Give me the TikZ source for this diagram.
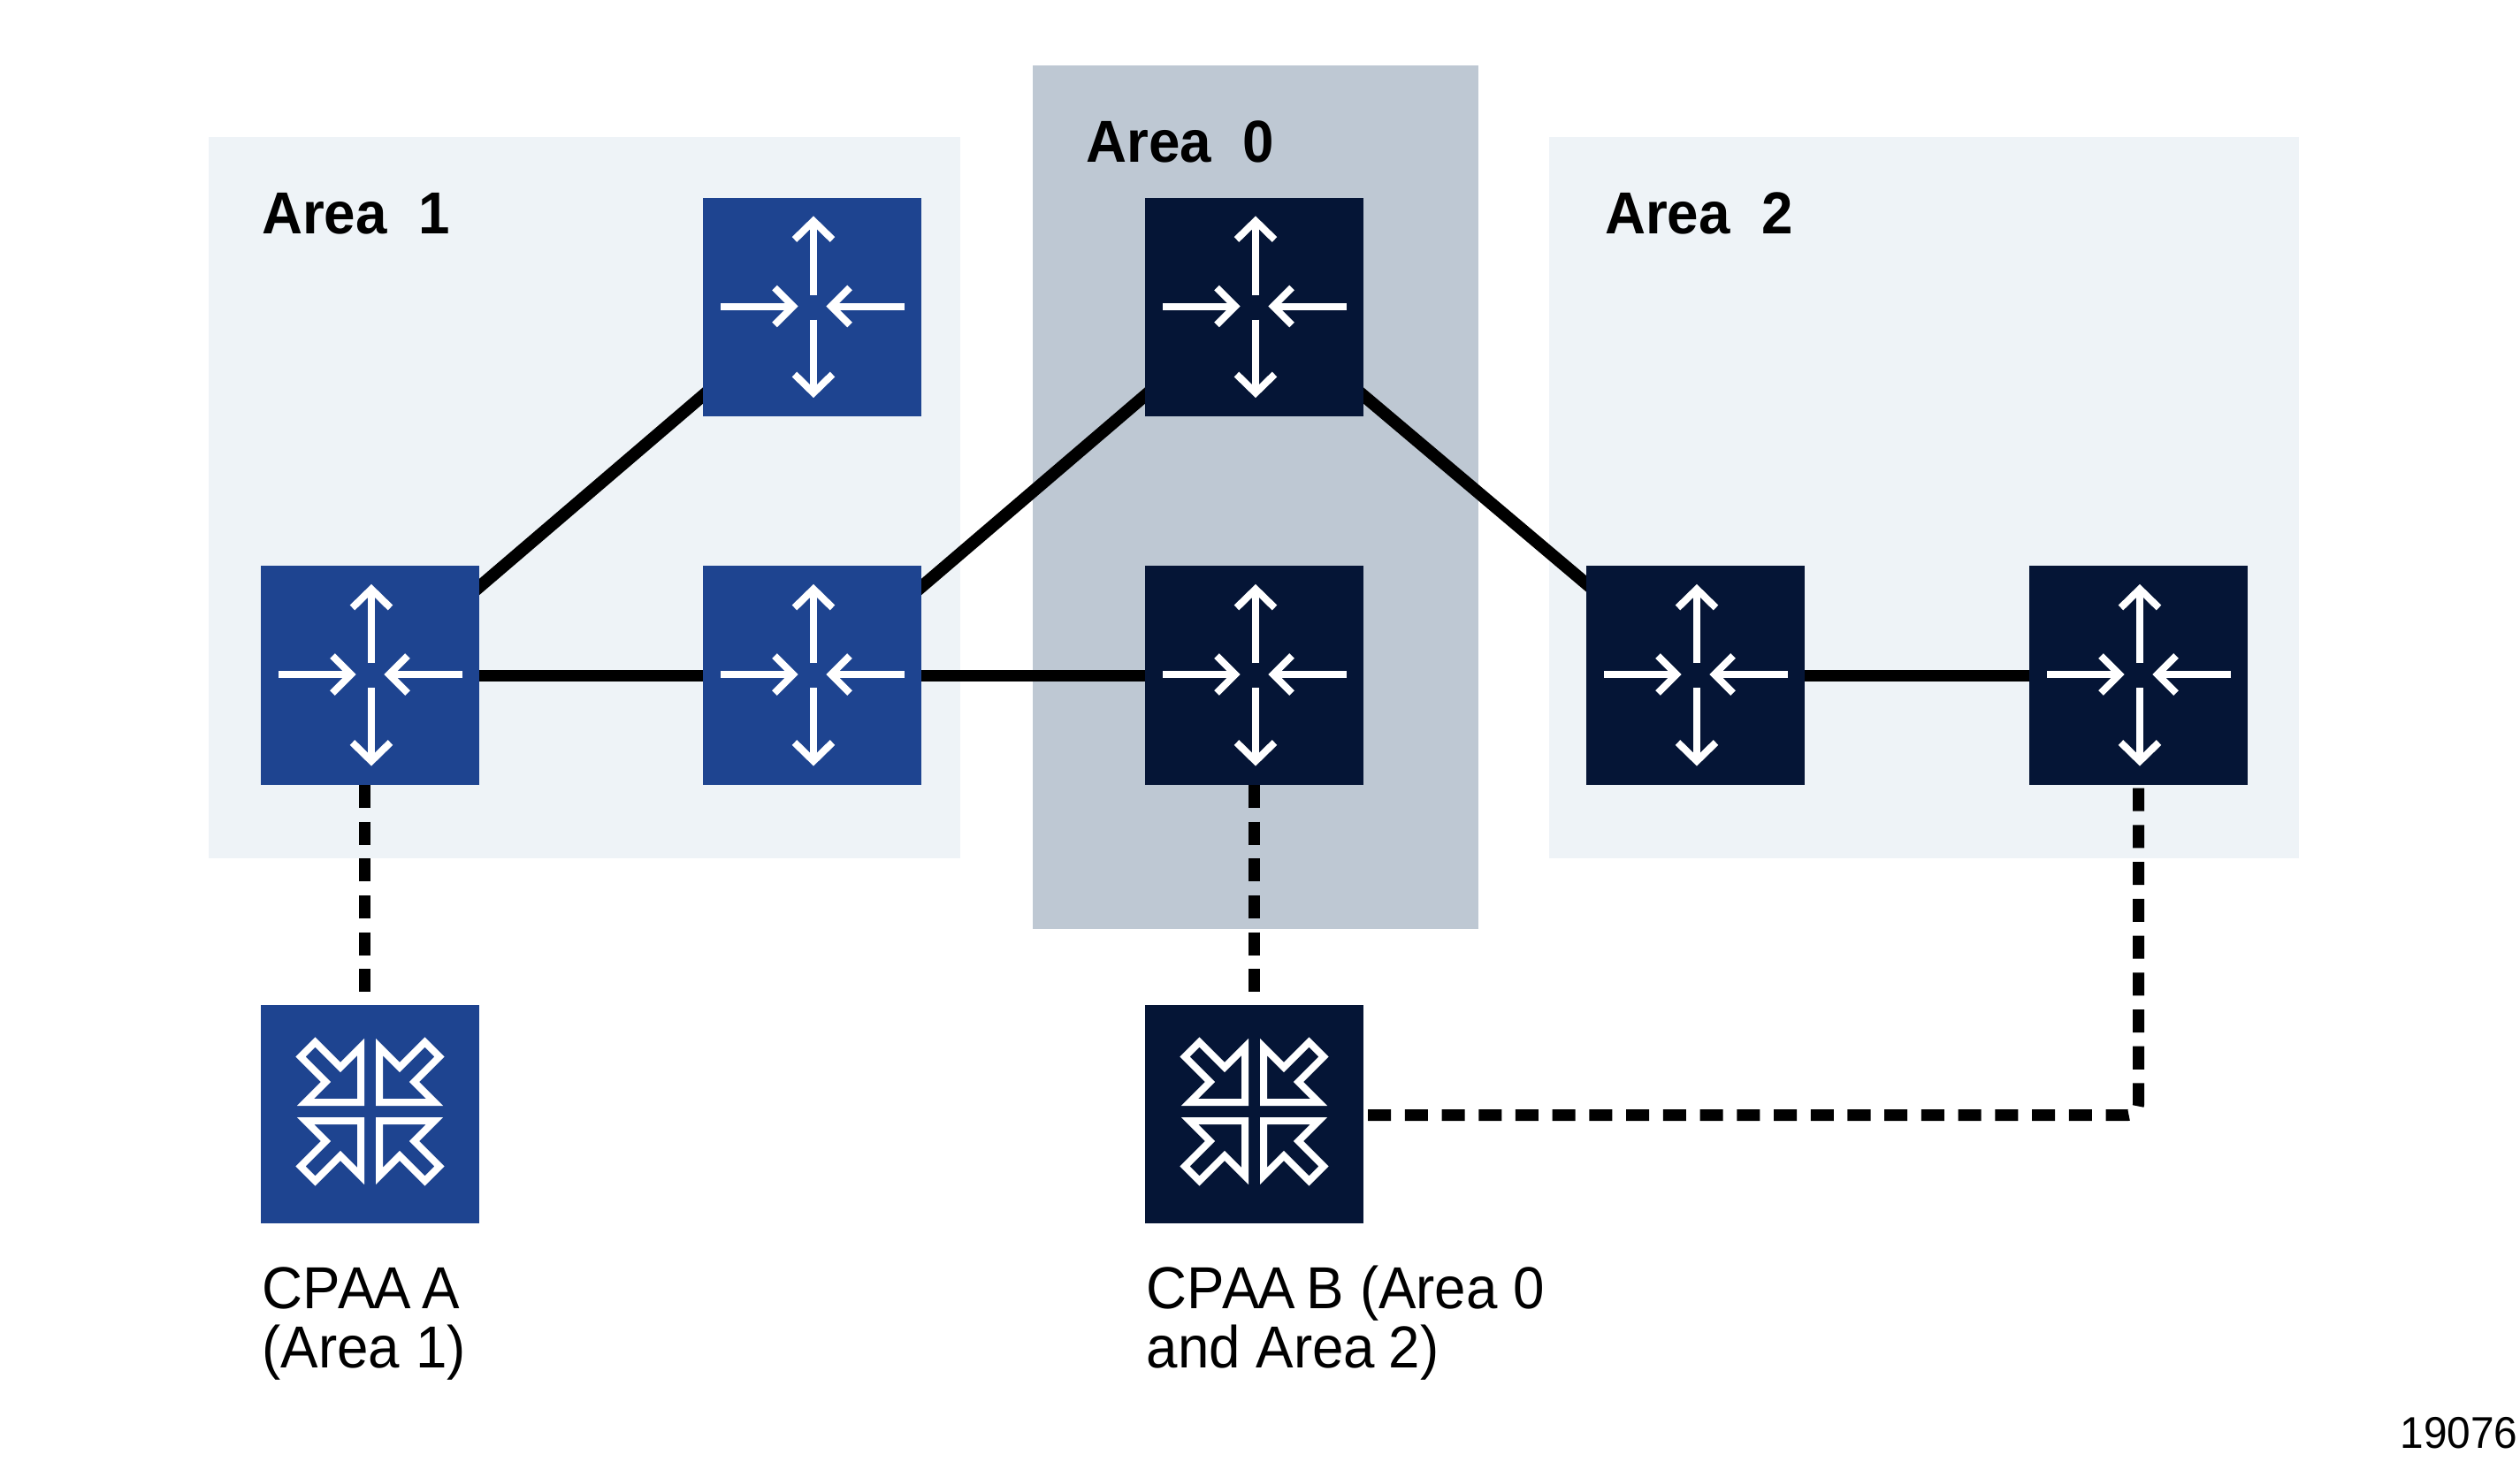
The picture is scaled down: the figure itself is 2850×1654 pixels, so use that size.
\documentclass[tikz,border=0pt]{standalone}
\usepackage{fontspec}
\setmainfont{Liberation Sans}[FakeStretch=0.95]
\usetikzlibrary{calc}
\definecolor{areablue}{HTML}{1E4490}
\definecolor{areanavy}{HTML}{051536}
\definecolor{arealight}{HTML}{EEF3F7}
\definecolor{areagrey}{HTML}{BEC8D3}
\pgfdeclarelayer{arealayer}
\pgfdeclarelayer{linklayer}
\pgfsetlayers{arealayer,linklayer,main}
\newcommand{\cpaa}{CP\kern-0.7ptA\kern-0.7ptA\kern-1.4pt}
\tikzset{
  x=0.01cm,y=-0.01cm,
  device/.style={rectangle,minimum width=2.47cm,minimum height=2.475cm,inner sep=0pt,outer sep=0pt},
  bluedev/.style={device,fill=areablue},
  navydev/.style={device,fill=areanavy},
  arealabel/.style={anchor=base west,inner sep=0pt,font=\fontsize{19.06}{18.78}\selectfont\bfseries},
  caption/.style={anchor=base west,inner sep=0pt,align=left,font=\fontsize{19.06}{18.78}\selectfont},
  refnum/.style={anchor=base east,inner sep=0pt,font=\fontsize{14.3}{16}\selectfont},
  link/.style={line width=0.13cm,line cap=butt,shorten <=-4pt,shorten >=-4pt},
  diaglink/.style={link,line width=0.14cm},
  dashlink/.style={line width=0.13cm,line cap=butt,dash pattern=on 0.26cm off 0.157cm},
  iconline/.style={draw=white,line width=0.08cm,line cap=butt,miter limit=10},
  routericon/.pic={
    \begin{scope}[shift={(1.5,-1)},iconline]
      \draw (0,-13)--(0,-96); \draw (-21.5,-75.5)--(0,-96.5)--(21.5,-75.5);
      \draw (0,15)--(0,98); \draw (-21.5,77)--(0,98)--(21.5,77);
      \draw (-105,0)--(-23,0); \draw (-44,-21)--(-23,0)--(-44,21);
      \draw (103,0)--(20,0); \draw (41,-21)--(20,0)--(41,21);
    \end{scope}
  },
  quadarrow/.pic={
    \draw[iconline] (-10.5,-10.5)--(-10.5,-73)--(-33.5,-50)--(-62,-78.5)--(-78.5,-62)--(-50,-33.5)--(-73,-10.5)--cycle;
  },
  cpaaicon/.pic={
    \begin{scope}[shift={(0,-3)}]
      \pic {quadarrow};
      \pic[xscale=-1] {quadarrow};
      \pic[yscale=-1] {quadarrow};
      \pic[xscale=-1,yscale=-1] {quadarrow};
    \end{scope}
  },
}
\begin{document}
\begin{tikzpicture}
\useasboundingbox (0,0) rectangle (2850,1654);
\begin{pgfonlayer}{arealayer}
  \fill[arealight] (236,155) rectangle (1086,971);
  \fill[areagrey] (1168,74) rectangle (1672,1051);
  \fill[arealight] (1752,155) rectangle (2600,971);
\end{pgfonlayer}

\node[arealabel] (l1) at (295.5,264) {Area\ \ 1};
\node[arealabel] (l0) at (1228,183) {Area\ \ 0};
\node[arealabel] (l2) at (1814.5,264) {Area\ \ 2};

\node[bluedev] (a1) at (418.5,764) {};
\node[bluedev] (a2) at (918.5,764) {};
\node[bluedev] (a3) at (918.5,347.5) {};
\node[navydev] (z1) at (1418.5,764) {};
\node[navydev] (z2) at (1418.5,347.5) {};
\node[navydev] (b1) at (1917.5,764) {};
\node[navydev] (b2) at (2418.5,764) {};
\node[bluedev] (ca) at (418.5,1260.5) {};
\node[navydev] (cb) at (1418.5,1260.5) {};

\foreach \n in {a1,a2,a3,z1,z2,b1,b2} \pic at (\n.center) {routericon};
\foreach \n in {ca,cb} \pic at (\n.center) {cpaaicon};

\begin{pgfonlayer}{linklayer}
  \draw[diaglink] (a1.39.8) -- (a3.219.96);
  \draw[diaglink] (a2.39.8) -- (z2.219.96);
  \draw[diaglink] (z2.-39.1) -- (b1.140.2);
  \draw[link] (a1.east) -- (a2.west);
  \draw[link] (a2.east) -- (z1.west);
  \draw[link] (b1.east) -- (b2.west);
  \draw[dashlink] ([xshift=-0.06cm]a1.south) -- ([xshift=-0.06cm]ca.north);
  \draw[dashlink] (z1.south) -- (cb.north);
  \draw[dashlink,rounded corners=0.12cm] ([xshift=0.05cm,yshift=-0.01cm]cb.east) -| (b2.south);
\end{pgfonlayer}

\node[caption] (c1) at (296,1547) {\cpaa{} A\\(Area 1)};
\node[caption] (c2) at (1296,1547) {\cpaa{} B (Area 0\\and Area\kern-0.6pt\ 2)};
\node[refnum] (num) at (2848,1638) {19076};
\end{tikzpicture}
\end{document}
